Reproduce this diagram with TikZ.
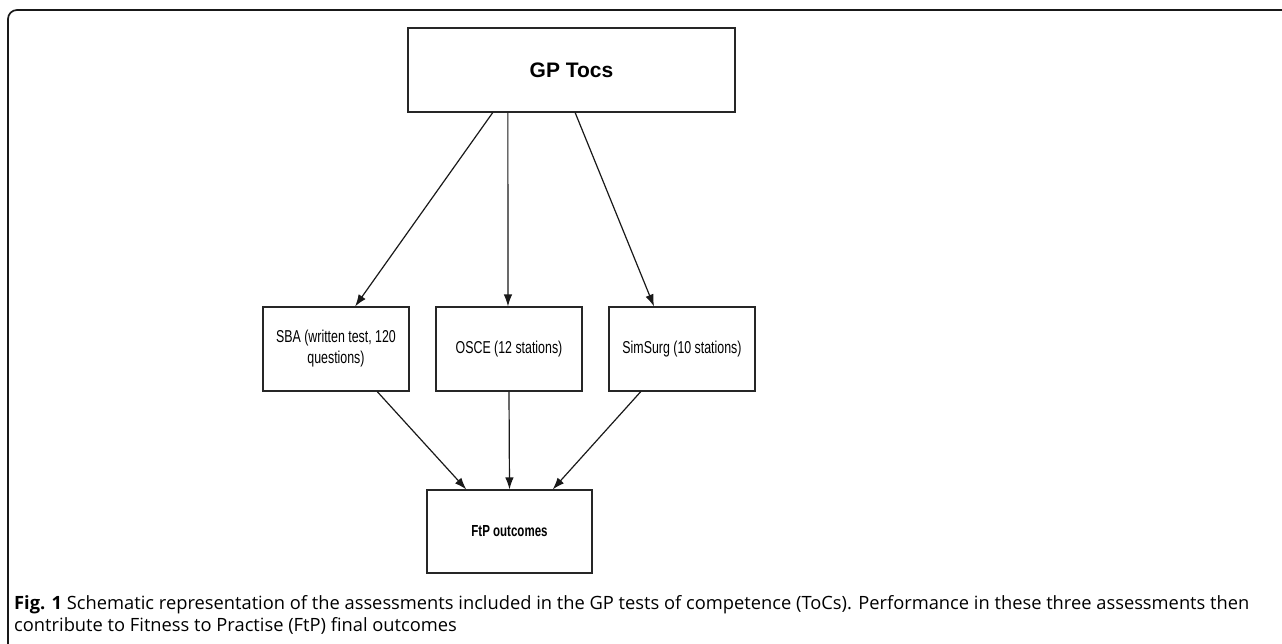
\documentclass[tikz,border=0pt]{standalone}
\usepackage{fontspec}
\setmainfont{Liberation Sans}
\newfontfamily\narrowfont[FakeStretch=0.72]{Liberation Sans}
\newfontfamily\capfont{Open Sans}
\usetikzlibrary{arrows.meta,calc}
\tikzset{
  box/.style={draw=black!85, line width=1.1pt, rectangle, inner sep=2pt, align=center,
     font=\narrowfont\fontsize{17.2}{21}\selectfont},
  conn/.style={draw=black!90, line width=1.2pt, -{Latex[length=12pt,width=8.5pt]}},
}
\begin{document}
\begin{tikzpicture}[x=1pt,y=-1pt]
\useasboundingbox (0,0) rectangle (1282,643);
\draw[line width=1.7pt, black!90, rounded corners=9pt] (8,650) -- (8,10) -- (1290,10);
\node[box, minimum width=327pt, minimum height=84pt, font=\bfseries\fontsize{21}{24}\selectfont] (gp) at (571.5,70) {GP Tocs};
\node[box, minimum width=146pt, minimum height=84pt] (sba) at (336,349) {SBA (written test, 120\\questions)};
\node[box, minimum width=146pt, minimum height=84pt] (osce) at (509,349) {OSCE (12 stations)};
\node[box, minimum width=146pt, minimum height=84pt] (sim) at (682,349) {SimSurg (10 stations)};
\node[box, minimum width=165pt, minimum height=83pt, font=\bfseries\narrowfont\fontsize{16}{20}\selectfont] (ftp) at (509.5,531.5) {FtP outcomes};
\draw[conn] ($(gp.south west)!0.26!(gp.south east)$) -- ($(sba.north west)!0.63!(sba.north east)$);
\draw[conn] ($(gp.south west)!0.306!(gp.south east)$) -- ($(osce.north west)!0.493!(osce.north east)$);
\draw[conn] ($(gp.south west)!0.511!(gp.south east)$) -- ($(sim.north west)!0.31!(sim.north east)$);
\draw[conn] ($(sba.south west)!0.78!(sba.south east)$) -- ($(ftp.north west)!0.24!(ftp.north east)$);
\draw[conn] (osce.south) -- (ftp.north);
\draw[conn] ($(sim.south west)!0.22!(sim.south east)$) -- ($(ftp.north west)!0.76!(ftp.north east)$);
\node[anchor=north west, align=left, inner sep=0pt, font=\capfont\fontsize{18.3}{22}\selectfont] (cap) at (14,595)
  {{\bfseries Fig. 1} Schematic representation of the assessments included in the GP tests of competence (ToCs). Performance in these three assessments then\\
   contribute to Fitness to Practise (FtP) final outcomes};
\end{tikzpicture}
\end{document}
